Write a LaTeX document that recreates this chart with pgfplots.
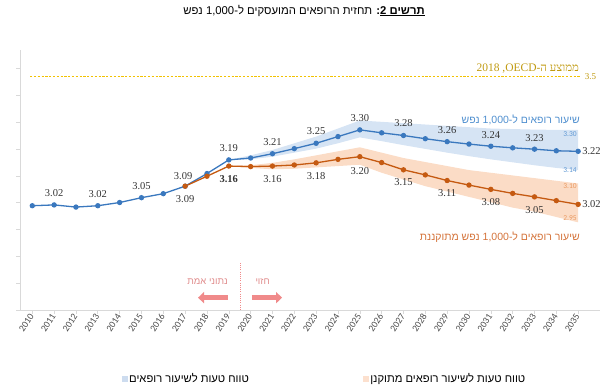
\documentclass[border=0pt]{standalone}
\usepackage{pgfplots}
\pgfplotsset{compat=1.18}
\usetikzlibrary{arrows.meta}
\usepackage{fontspec}
\TeXXeTstate=1
\setmainfont{Liberation Sans}
\newfontfamily\heb[Script=Hebrew]{Liberation Sans}
\newfontfamily\hebserif[Script=Hebrew]{Liberation Serif}
\newfontfamily\latsans{Liberation Sans}
\newfontfamily\latserif{Liberation Serif}
\newfontfamily\numfont{Liberation Serif}
\newfontfamily\tickfont{Carlito}
\definecolor{axisgrey}{HTML}{D9D9D9}
\definecolor{ticklab}{HTML}{4A4A4A}
\definecolor{blueline}{HTML}{3A78BE}
\definecolor{orangeline}{HTML}{C55A11}
\definecolor{bandblue}{HTML}{D6E4F4}
\definecolor{bandorange}{HTML}{FBDCC6}
\definecolor{bluelab}{HTML}{4F8FCF}
\definecolor{orangelab}{HTML}{D4733A}
\definecolor{bandbluelab}{HTML}{5F98D4}
\definecolor{bandorangelab}{HTML}{E9985F}
\definecolor{oecdline}{HTML}{F2C200}
\definecolor{oecdtext}{HTML}{C09A10}
\definecolor{salmon}{HTML}{F08A8A}
\definecolor{salmontext}{HTML}{E08C8C}
\definecolor{datalab}{HTML}{333333}
\definecolor{legblue}{HTML}{CDDCEF}
\definecolor{legorange}{HTML}{FCE0CE}
\begin{document}
\begin{tikzpicture}
\path[use as bounding box] (0,0) rectangle (614pt,390pt);
% title
\node[anchor=center] at (304pt,379.3pt) {\heb\fontsize{11.3}{13}\selectfont\beginR\underline{\beginR\bfseries תרשים \beginL{\latsans\bfseries 2}\endL\endR}{\bfseries :} תחזית הרופאים המועסקים ל-\beginL{\latsans 1,000}\endL{} נפש\endR};
\begin{axis}[
  at={(20pt,80pt)}, anchor=south west,
  width=580pt, height=260pt, scale only axis,
  xmin=2009.437, xmax=2036, ymin=2.628, ymax=3.598,
  axis x line=bottom, axis y line=left,
  axis line style={draw=axisgrey, line width=0.6pt, -},
  xtick={2010,2011,2012,2013,2014,2015,2016,2017,2018,2019,2020,2021,2022,2023,2024,2025,2026,2027,2028,2029,2030,2031,2032,2033,2034,2035},
  xticklabels={2010,2011,2012,2013,2014,2015,2016,2017,2018,2019,2020,2021,2022,2023,2024,2025,2026,2027,2028,2029,2030,2031,2032,2033,2034,2035},
  ytick={2.628,2.728,2.828,2.928,3.028,3.128,3.228,3.328,3.428,3.528},
  yticklabels={},
  tick align=outside, major tick length=4pt,
  tick style={draw=axisgrey, line width=0.6pt},
  x tick label style={font=\tickfont\fontsize{9.5}{11}\selectfont, text=ticklab, rotate=57, anchor=east, inner sep=1pt},
  clip=false,
  legend columns=2,
  legend style={at={(0.17,-0.265)}, anchor=west, draw=none, fill=none,
    font=\heb\fontsize{11.2}{13}\selectfont,
    /tikz/every even column/.append style={column sep=112pt}},
  legend cell align=left,
]
% blue band (upper edge forward, lower edge backward)
\addplot[fill=bandblue, draw=none, forget plot] coordinates {
(2019,3.188)(2020,3.205)(2021,3.225)(2022,3.25)(2023,3.275)(2024,3.305)(2025,3.335)
(2026,3.33)(2027,3.325)(2028,3.32)(2029,3.315)(2030,3.31)(2031,3.305)(2032,3.303)(2033,3.301)(2034,3.30)(2035,3.30)
(2035,3.15)(2034,3.158)(2033,3.168)(2032,3.179)(2031,3.19)(2030,3.202)(2029,3.215)(2028,3.229)(2027,3.243)(2026,3.258)
(2025,3.272)(2024,3.25)(2023,3.23)(2022,3.215)(2021,3.20)(2020,3.19)(2019,3.188)} -- cycle;
% orange band
\addplot[fill=bandorange, draw=none, forget plot] coordinates {
(2019,3.165)(2020,3.168)(2021,3.177)(2022,3.19)(2023,3.205)(2024,3.22)(2025,3.235)
(2026,3.215)(2027,3.195)(2028,3.18)(2029,3.165)(2030,3.15)(2031,3.14)(2032,3.13)(2033,3.12)(2034,3.11)(2035,3.10)
(2035,2.955)(2034,2.975)(2033,2.995)(2032,3.01)(2031,3.03)(2030,3.05)(2029,3.07)(2028,3.09)(2027,3.115)(2026,3.14)
(2025,3.17)(2024,3.165)(2023,3.16)(2022,3.155)(2021,3.153)(2020,3.158)(2019,3.165)} -- cycle;
% OECD average
\addplot[color=oecdline, line width=0.9pt, dash pattern=on 2.2pt off 1.6pt, forget plot] coordinates {(2009.9,3.5)(2035.1,3.5)};
% lines
\addplot[color=blueline, line width=1.3pt, mark=*, mark size=2pt, mark options={solid}, forget plot] coordinates {
(2010,3.017)(2011,3.02)(2012,3.012)(2013,3.017)(2014,3.029)(2015,3.047)(2016,3.062)(2017,3.09)
(2018,3.137)(2019,3.188)(2020,3.195)(2021,3.211)(2022,3.23)(2023,3.25)(2024,3.275)(2025,3.30)
(2026,3.289)(2027,3.279)(2028,3.267)(2029,3.256)(2030,3.247)(2031,3.239)(2032,3.233)(2033,3.228)(2034,3.222)(2035,3.22)};
\addplot[color=orangeline, line width=1.3pt, mark=*, mark size=2pt, mark options={solid}, forget plot] coordinates {
(2017,3.09)(2018,3.127)(2019,3.165)(2020,3.163)(2021,3.165)(2022,3.169)(2023,3.177)(2024,3.19)(2025,3.20)
(2026,3.178)(2027,3.151)(2028,3.132)(2029,3.111)(2030,3.094)(2031,3.078)(2032,3.063)(2033,3.05)(2034,3.036)(2035,3.022)};
% legend
\addlegendimage{legend image code/.code={\fill[legblue] (0pt,-2.5pt) rectangle (5pt,2.5pt);}}
\addlegendentry{\beginR טווח טעות לשיעור רופאים\endR}
\addlegendimage{legend image code/.code={\fill[legorange] (0pt,-2.5pt) rectangle (5pt,2.5pt);}}
\addlegendentry{\beginR טווח טעות לשיעור רופאים מתוקנן\endR}
% data labels blue (above)
\begin{scope}[every node/.append style={font=\numfont\fontsize{10.5}{12}\selectfont, text=datalab, inner sep=0pt}]
\node[yshift=12pt] at (axis cs:2011,3.02) {3.02};
\node[yshift=12pt] at (axis cs:2013,3.017) {3.02};
\node[yshift=12pt] at (axis cs:2015,3.047) {3.05};
\node[yshift=10.5pt, xshift=-2pt] at (axis cs:2017,3.09) {3.09};
\node[yshift=12pt] at (axis cs:2019,3.188) {3.19};
\node[yshift=12pt] at (axis cs:2021,3.211) {3.21};
\node[yshift=12pt] at (axis cs:2023,3.25) {3.25};
\node[yshift=12pt] at (axis cs:2025,3.30) {3.30};
\node[yshift=12pt] at (axis cs:2027,3.279) {3.28};
\node[yshift=12pt] at (axis cs:2029,3.256) {3.26};
\node[yshift=11.5pt] at (axis cs:2031,3.239) {3.24};
\node[yshift=11.5pt] at (axis cs:2033,3.228) {3.23};
\node[anchor=west, xshift=4pt] at (axis cs:2035,3.22) {3.22};
% orange (below)
\node[yshift=-13pt] at (axis cs:2017,3.09) {3.09};
\node[yshift=-13pt] at (axis cs:2019,3.165) {\bfseries 3.16};
\node[yshift=-13pt] at (axis cs:2021,3.165) {3.16};
\node[yshift=-13.5pt] at (axis cs:2023,3.177) {3.18};
\node[yshift=-14pt] at (axis cs:2025,3.20) {3.20};
\node[yshift=-12pt] at (axis cs:2027,3.151) {3.15};
\node[yshift=-12.5pt] at (axis cs:2029,3.111) {3.11};
\node[yshift=-13pt] at (axis cs:2031,3.078) {3.08};
\node[yshift=-13pt] at (axis cs:2033,3.05) {3.05};
\node[anchor=west, xshift=4pt] at (axis cs:2035,3.022) {3.02};
\end{scope}
% band labels
\begin{scope}[every node/.append style={font=\tickfont\fontsize{7.5}{8}\selectfont, inner sep=0pt}]
\node[text=bandbluelab] at (axis cs:2034.63,3.285) {3.30};
\node[text=bandbluelab] at (axis cs:2034.63,3.151) {3.14};
\node[text=bandorangelab] at (axis cs:2034.63,3.092) {3.10};
\node[text=bandorangelab] at (axis cs:2034.63,2.970) {2.95};
\end{scope}
% series labels
\node[anchor=east, inner sep=0pt, text=bluelab] at (axis cs:2035.08,3.337) {\heb\fontsize{10.5}{12}\selectfont\beginR שיעור רופאים ל-\beginL{\latsans 1,000}\endL{} נפש\endR};
\node[anchor=east, inner sep=0pt, text=orangelab] at (axis cs:2035.08,2.9006) {\heb\fontsize{10.5}{12}\selectfont\beginR שיעור רופאים ל-\beginL{\latsans 1,000}\endL{} נפש מתוקננת\endR};
% OECD label
\node[anchor=east, inner sep=0pt, text=oecdtext] at (axis cs:2035.05,3.53) {\hebserif\fontsize{11.5}{13}\selectfont\beginR ממוצע ה-\beginL{\latserif OECD}\endL, \beginL{\latserif 2018}\endL\endR};
\node[anchor=west, inner sep=0pt, text=oecdtext] at (axis cs:2035.3,3.5) {\latserif\fontsize{9}{10}\selectfont 3.5};
% divider and arrows
\draw[color=salmon, line width=0.7pt, dash pattern=on 1pt off 1.2pt] (axis cs:2019.55,2.804) -- (axis cs:2019.55,2.628);
\draw[color=salmon, line width=4.5pt, -{Triangle[length=6pt,width=11pt]}] (axis cs:2018.96,2.674) -- (axis cs:2017.59,2.674);
\draw[color=salmon, line width=4.5pt, -{Triangle[length=6pt,width=11pt]}] (axis cs:2020.06,2.674) -- (axis cs:2021.44,2.674);
\node[text=salmontext, inner sep=0pt] at (axis cs:2018.03,2.7327) {\heb\fontsize{9.5}{11}\selectfont\beginR נתוני אמת\endR};
\node[text=salmontext, inner sep=0pt] at (axis cs:2020.55,2.7327) {\heb\fontsize{9.5}{11}\selectfont\beginR חזוי\endR};
\end{axis}
\end{tikzpicture}
\end{document}
